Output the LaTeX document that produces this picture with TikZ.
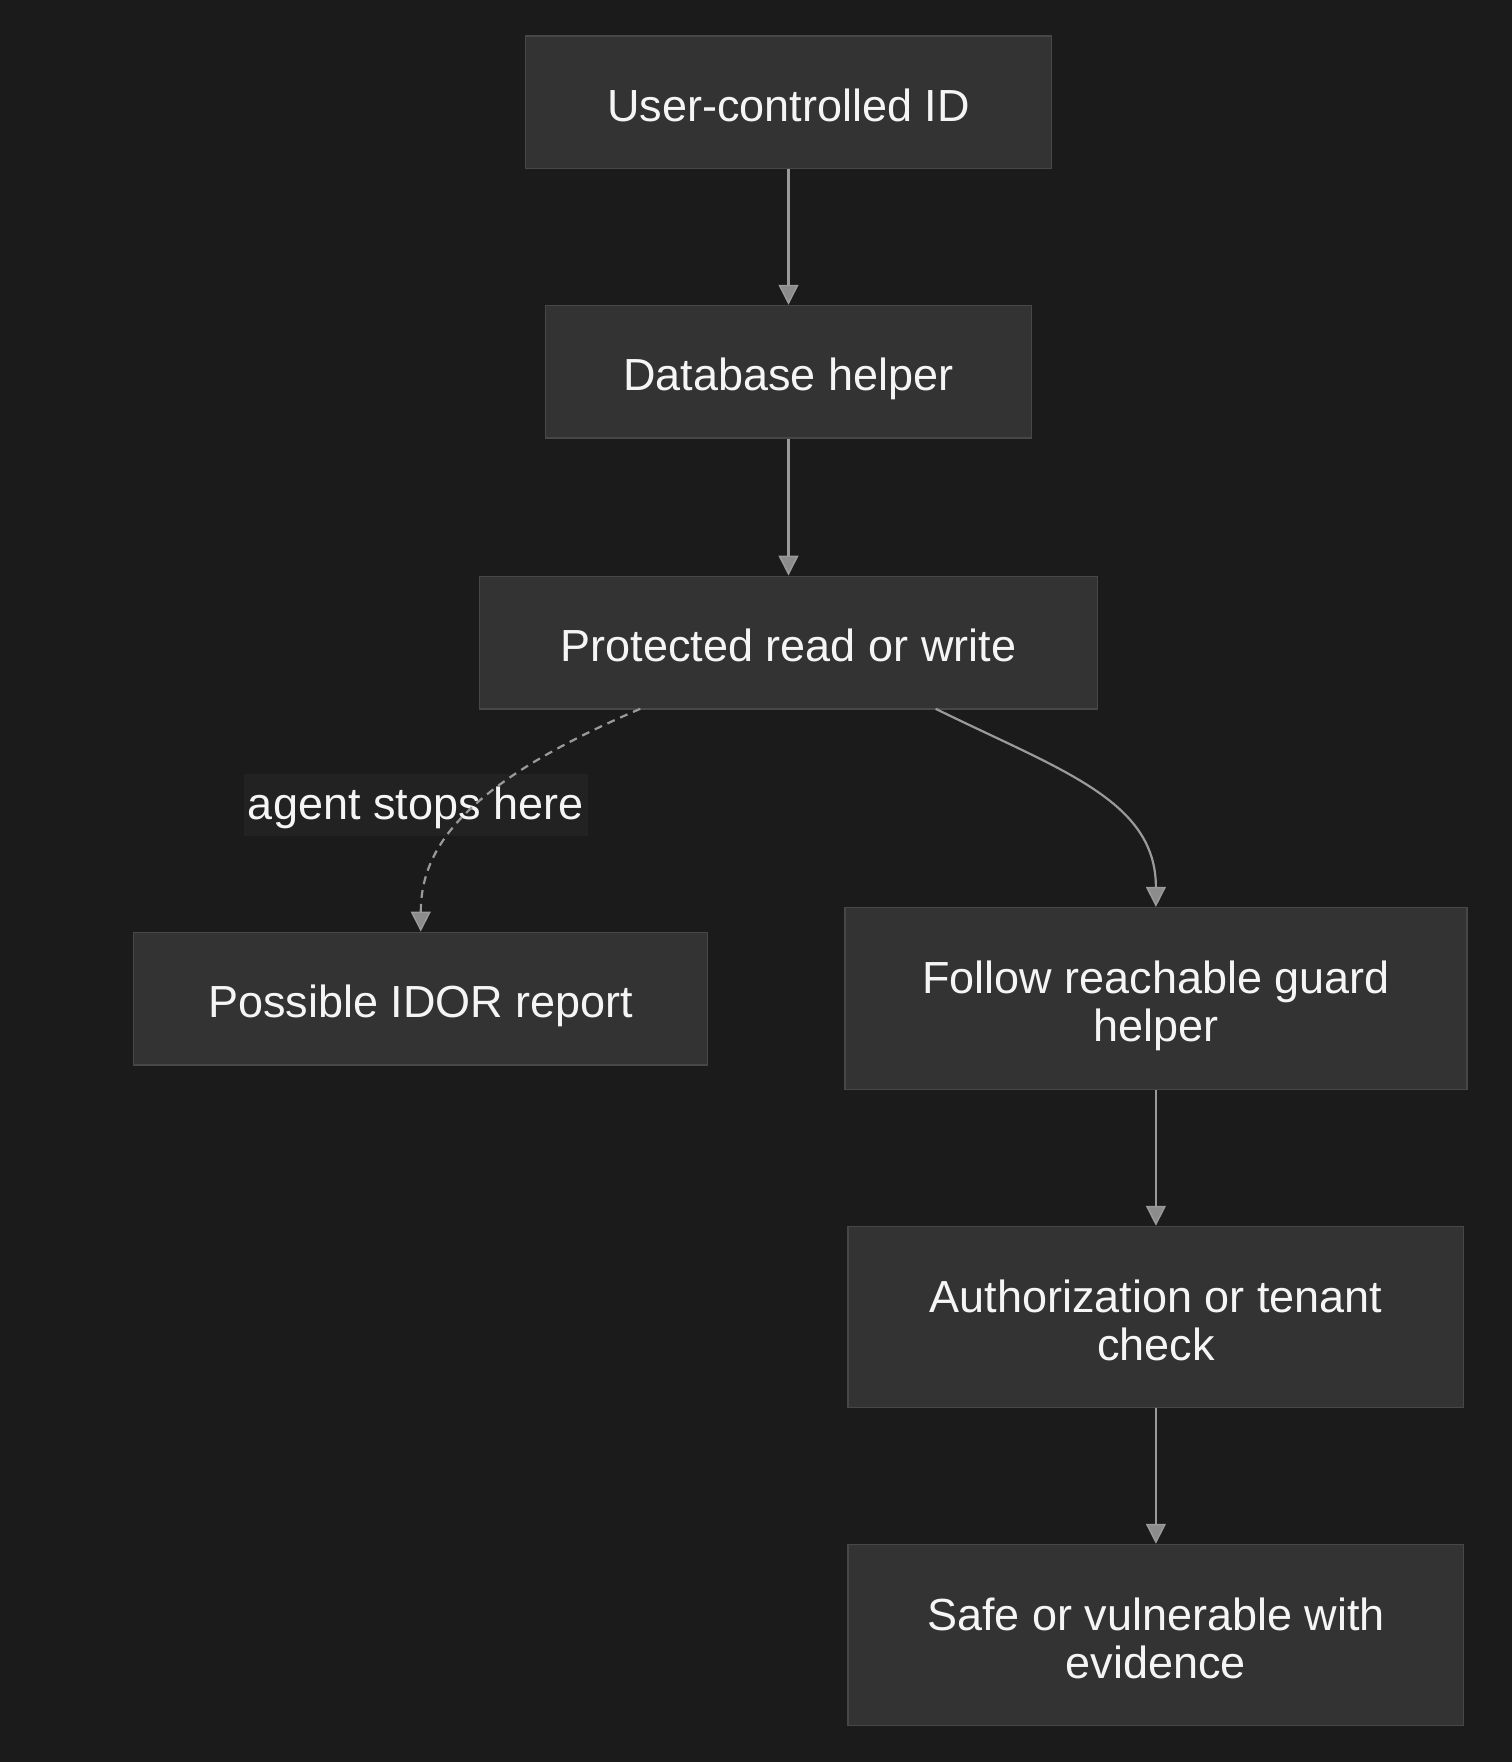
\documentclass[tikz,border=0pt]{standalone}
\usepackage{fontspec}
\setmainfont{Liberation Sans}
\usetikzlibrary{arrows.meta}
\definecolor{bgc}{HTML}{1B1B1B}
\definecolor{nodefill}{HTML}{333333}
\definecolor{nodeborder}{HTML}{474747}
\definecolor{edgec}{HTML}{9A9A9A}
\definecolor{tipfill}{HTML}{8C8C8C}
\definecolor{labelbg}{HTML}{222222}
\definecolor{txt}{HTML}{F5F5F5}
\newcommand\lnst{\vrule width 0pt height 48pt depth 10pt}
\newcommand\topst{\vrule width 0pt height 48pt depth 0pt}
\newcommand\botst{\vrule width 0pt height 0pt depth 10pt}
\newcommand\lbst{\vrule width 0pt height 40pt depth 10pt}
\tikzset{
  flowbox/.style={draw=nodeborder, line width=1.5pt, fill=nodefill, text=txt,
    font=\fontsize{45}{48}\selectfont, align=center, inner sep=0pt},
  flowedge/.style={draw=edgec, line width=2.2pt,
    -{Triangle[length=20pt,width=20pt,fill=tipfill,line width=1.5pt]}},
  edgelabel/.style={fill=labelbg, text=txt, font=\fontsize{45}{48}\selectfont, inner sep=0pt,
    minimum width=344pt, minimum height=62pt}
}
\begin{document}
\begin{tikzpicture}[x=1pt,y=-1pt]
\fill[bgc] (0,0) rectangle (1512,1762);
\useasboundingbox (0,0) rectangle (1512,1762);

\node[flowbox, minimum width=525.7pt, minimum height=132.6pt] (A) at (788.5,102.2) {\lnst User-controlled ID};
\node[flowbox, minimum width=486.4pt, minimum height=132.6pt] (B) at (788.5,371.8) {\lnst Database helper};
\node[flowbox, minimum width=617.9pt, minimum height=132.5pt] (C) at (788.5,642.5) {\lnst Protected read or write};
\node[flowbox, minimum width=574pt, minimum height=132.6pt] (D) at (420.7,998.6) {\lnst Possible IDOR report};
\node[flowbox, minimum width=622.3pt, minimum height=182pt] (E) at (1155.9,998.6) {\topst Follow reachable guard\\\botst helper};
\node[flowbox, minimum width=615.5pt, minimum height=181pt] (F) at (1155.9,1317) {\topst Authorization or tenant\\\botst check};
\node[flowbox, minimum width=615.5pt, minimum height=181pt] (G) at (1155.9,1635) {\topst Safe or vulnerable with\\\botst evidence};

\node[edgelabel] (L) at (415.6,804.8) {\lbst agent stops here};

\coordinate (cs1) at (640.3,708.8);
\coordinate (cs2) at (935.7,708.8);

\draw[flowedge] (A) -- (B);
\draw[flowedge] (B) -- (C);
\draw[flowedge, dash pattern=on 8pt off 6pt] (cs1) .. controls (460,786) and (421,850) .. (D.north);
\draw[flowedge] (cs2) .. controls (1060,770) and (1155.9,800) .. (E.north);
\draw[flowedge] (E) -- (F);
\draw[flowedge] (F) -- (G);
\end{tikzpicture}
\end{document}
